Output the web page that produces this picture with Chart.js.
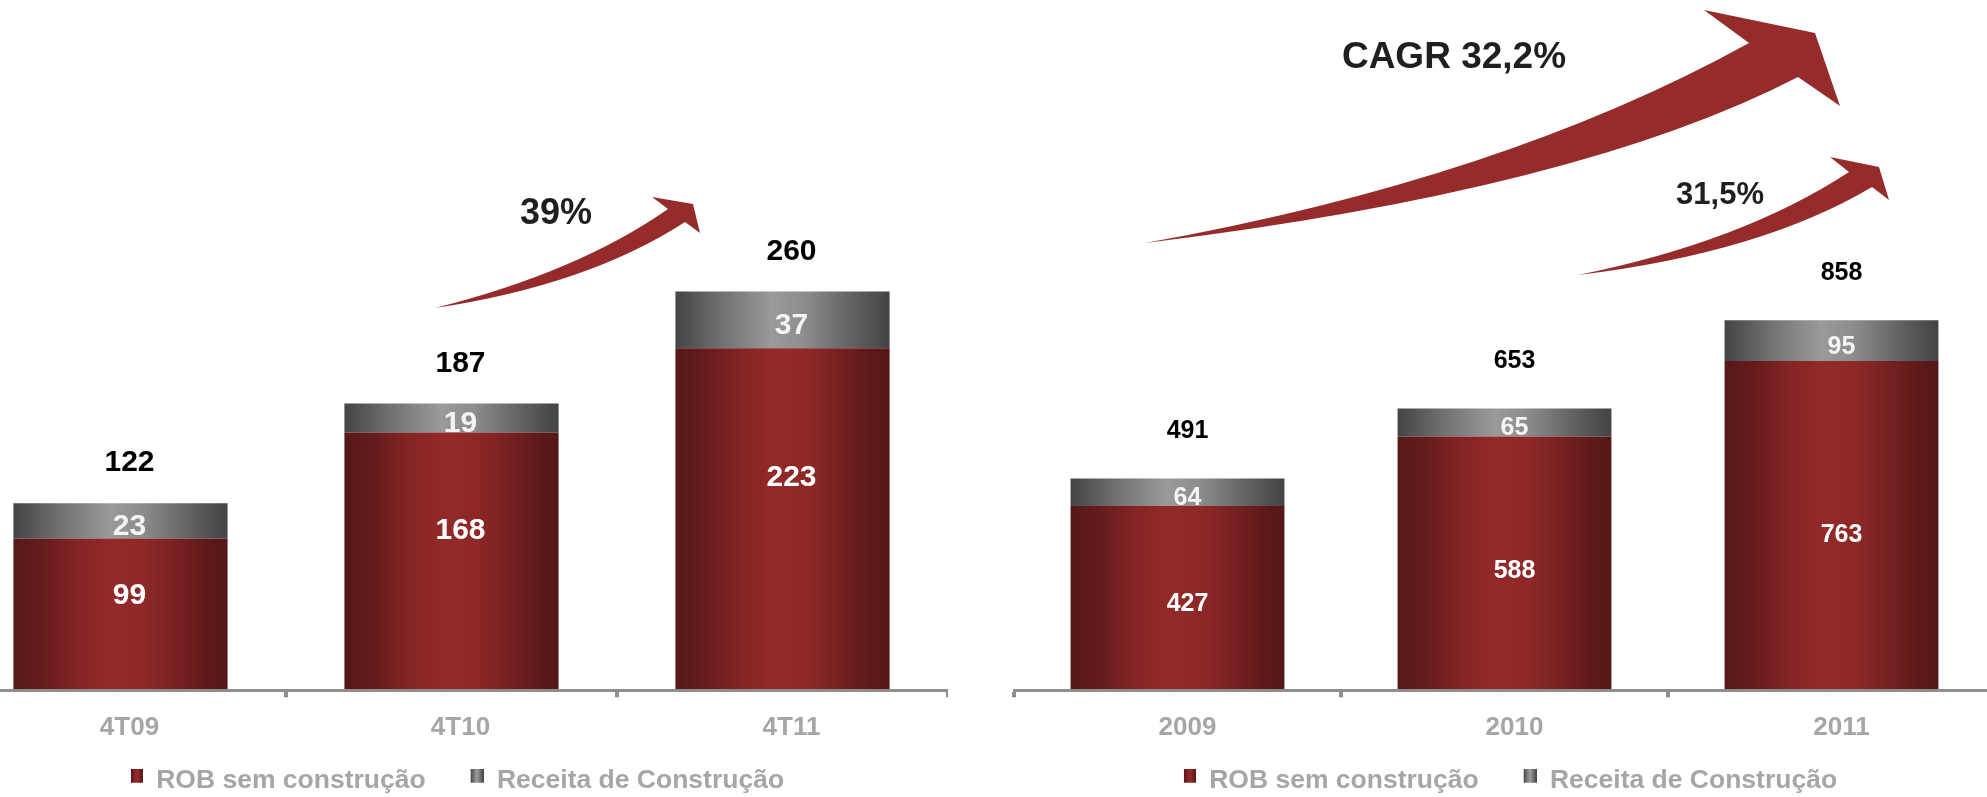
<!DOCTYPE html>
<html lang="pt-BR">
<head>
<meta charset="utf-8">
<title>Receita Operacional Bruta</title>
<script src="https://cdn.jsdelivr.net/npm/chart.js@4.4.1/dist/chart.umd.min.js"></script>
<style>
  html, body { margin: 0; padding: 0; background: #fff; overflow: hidden; }
  body { width: 1987px; height: 797px; position: relative; }
  .painel { position: absolute; top: 0; height: 804px; }
  #painel-tri { left: -70px; width: 1018px; }
  #painel-ano { left: 989px; width: 1006px; }
</style>
</head>
<body>
<div class="painel" id="painel-tri"><canvas id="graficoTri"></canvas></div>
<div class="painel" id="painel-ano"><canvas id="graficoAno"></canvas></div>
<script>
// Trimestre (4T)
const trimestres = ["4T09", "4T10", "4T11"];
const robTri = [99, 168, 223];
const construcaoTri = [23, 19, 37];

// Ano
const anos = ["2009", "2010", "2011"];
const robAno = [427, 588, 763];
const construcaoAno = [64, 65, 95];

const nomesSeries = ["ROB sem construção", "Receita de Construção"];

const FONTE = "'Liberation Sans', Arial, Helvetica, sans-serif";
const CINZA_TEXTO = "#a6a6a6";
const COR_EIXO = "#8e8e8e";
const COR_SETA = "#952b2b";
const CAIXA_LEGENDA = 49; // largura reservada pro marcador (define o espaço entre os itens)

// degradê horizontal das barras (bordas escuras, centro claro)
const tonsVermelho = [[0, "#561818"], [0.14, "#661c1c"], [0.3, "#842424"], [0.46, "#932a29"], [0.62, "#8d2827"], [0.78, "#742020"], [0.92, "#5c1919"], [1, "#541717"]];
const tonsCinza = [[0, "#444444"], [0.22, "#727272"], [0.45, "#9a9a9a"], [0.6, "#8d8d8d"], [0.8, "#666666"], [1, "#434343"]];

Chart.defaults.font.family = FONTE;
Chart.defaults.font.weight = "bold";

function degrade(ctx, x0, x1, tons) {
  const g = ctx.createLinearGradient(x0, 0, x1, 0);
  tons.forEach(function(t) { g.addColorStop(t[0], t[1]); });
  return g;
}

function preenchimento(tons, largura) {
  return function(c) {
    const chart = c.chart;
    const eixo = chart.scales.x;
    if (!chart.chartArea || !eixo || c.dataIndex === undefined) return tons[3][1];
    const cx = eixo.getPixelForValue(c.dataIndex);
    const meia = eixo.width / chart.data.labels.length * largura / 2;
    return degrade(chart.ctx, cx - meia, cx + meia, tons);
  };
}

// marcadores da legenda: quadradinho encostado à direita da caixa
function marcador(tons, w, h) {
  const c = document.createElement("canvas");
  c.width = CAIXA_LEGENDA;
  c.height = 24;
  const g = c.getContext("2d");
  const x0 = CAIXA_LEGENDA - w;
  g.fillStyle = degrade(g, x0, CAIXA_LEGENDA, tons);
  g.fillRect(x0, 0, w, h);
  return c;
}
const marcadores = [marcador(tonsVermelho, 12, 14), marcador(tonsCinza, 13, 14)];

// números dentro e acima das barras
const rotulos = {
  id: "rotulos",
  afterDatasetsDraw(chart, args, opts) {
    const ctx = chart.ctx;
    const rob = chart.data.datasets[0].data;
    const cons = chart.data.datasets[1].data;
    const barrasRob = chart.getDatasetMeta(0).data;
    const barrasCons = chart.getDatasetMeta(1).data;
    ctx.save();
    ctx.textAlign = "center";
    ctx.textBaseline = "middle";
    ctx.font = "bold " + opts.tamanho + "px " + FONTE;
    for (let i = 0; i < barrasRob.length; i++) {
      const b = barrasRob[i];
      const c = barrasCons[i];
      const x = b.x + opts.desvio;
      ctx.fillStyle = "#ffffff";
      ctx.fillText(rob[i], x, b.y + (b.base - b.y) * opts.posRob);
      ctx.fillStyle = "#f4f4f4";
      ctx.fillText(cons[i], x, (c.y + c.base) / 2 + 6);
      ctx.fillStyle = "#000000";
      ctx.fillText(rob[i] + cons[i], x, c.y - opts.folga);
    }
    ctx.restore();
  }
};

// setas de crescimento e textos de variação (coordenadas a partir da borda esquerda da área do gráfico)
const setas = {
  id: "setas",
  afterDraw(chart, args, opts) {
    const ctx = chart.ctx;
    ctx.save();
    ctx.translate(chart.chartArea.left, 0);
    (opts.setas || []).forEach(function(s) {
      ctx.beginPath();
      ctx.moveTo(s.cauda[0], s.cauda[1]);
      ctx.quadraticCurveTo(s.ctrlSup[0], s.ctrlSup[1], s.entalhe1[0], s.entalhe1[1]);
      ctx.lineTo(s.farpa1[0], s.farpa1[1]);
      ctx.lineTo(s.ponta[0], s.ponta[1]);
      ctx.lineTo(s.farpa2[0], s.farpa2[1]);
      ctx.lineTo(s.entalhe2[0], s.entalhe2[1]);
      ctx.quadraticCurveTo(s.ctrlInf[0], s.ctrlInf[1], s.cauda[0], s.cauda[1]);
      ctx.closePath();
      ctx.fillStyle = COR_SETA;
      ctx.fill();
    });
    ctx.textAlign = "center";
    ctx.textBaseline = "middle";
    ctx.fillStyle = "#1f1f1f";
    (opts.textos || []).forEach(function(t) {
      ctx.font = "bold " + t.tamanho + "px " + FONTE;
      ctx.fillText(t.texto, t.x, t.y);
    });
    ctx.restore();
  }
};

function criarGrafico(id, categorias, rob, cons, cfg) {
  return new Chart(document.getElementById(id), {
    type: "bar",
    data: {
      labels: categorias,
      datasets: [
        {
          label: nomesSeries[0],
          data: rob,
          backgroundColor: preenchimento(tonsVermelho, cfg.largura),
          borderWidth: 0,
          barPercentage: cfg.largura,
          categoryPercentage: 1
        },
        {
          label: nomesSeries[1],
          data: cons,
          backgroundColor: preenchimento(tonsCinza, cfg.largura),
          borderWidth: 0,
          barPercentage: cfg.largura,
          categoryPercentage: 1
        }
      ]
    },
    options: {
      responsive: true,
      maintainAspectRatio: false,
      animation: false,
      layout: { padding: 0 },
      scales: {
        x: {
          stacked: true,
          offset: true,
          grid: {
            display: true,
            offset: true,
            drawOnChartArea: false,
            drawTicks: true,
            tickLength: 7,
            color: COR_EIXO,
            lineWidth: 4
          },
          border: { display: true, color: COR_EIXO, width: 3, z: 1 },
          ticks: {
            color: CINZA_TEXTO,
            padding: 15,
            labelOffset: cfg.rotulos.desvio,
            font: { size: 26, weight: "bold" },
            maxRotation: 0
          }
        },
        // eixo y sem desenho, só reserva 25px à esquerda para centralizar a legenda
        y: {
          stacked: true,
          display: true,
          min: 0,
          max: cfg.maximo,
          ticks: { display: false },
          grid: { display: false },
          border: { display: false },
          afterFit: function(scale) { scale.width = 25; }
        }
      },
      plugins: {
        tooltip: { enabled: false },
        legend: {
          position: "bottom",
          labels: {
            color: CINZA_TEXTO,
            font: { size: 26.5, weight: "bold" },
            usePointStyle: true,
            pointStyleWidth: CAIXA_LEGENDA,
            boxHeight: 14,
            padding: 9,
            generateLabels: function(chart) {
              const itens = Chart.defaults.plugins.legend.labels.generateLabels(chart);
              itens.forEach(function(it, i) { it.pointStyle = marcadores[i]; });
              return itens;
            }
          }
        },
        rotulos: cfg.rotulos,
        setas: cfg.setas
      }
    },
    plugins: [rotulos, setas]
  });
}

document.addEventListener("DOMContentLoaded", function() {
  criarGrafico("graficoTri", trimestres, robTri, construcaoTri, {
    largura: 0.647,
    maximo: 450,
    rotulos: { tamanho: 30, desvio: 9, posRob: 0.38, folga: 40 },
    setas: {
      setas: [{
        cauda: [480, 308], ctrlSup: [623, 272], entalhe1: [713, 209],
        farpa1: [697, 197], ponta: [738, 204], farpa2: [745, 233],
        entalhe2: [730, 222], ctrlInf: [633, 285]
      }],
      textos: [{ texto: "39%", x: 601, y: 214, tamanho: 36 }]
    }
  });

  criarGrafico("graficoAno", anos, robAno, construcaoAno, {
    largura: 0.654,
    maximo: 1600,
    rotulos: { tamanho: 25, desvio: 10, posRob: 0.53, folga: 47 },
    setas: {
      setas: [
        {
          cauda: [131, 243], ctrlSup: [489, 179], entalhe1: [735, 43],
          farpa1: [690, 10], ponta: [801, 33], farpa2: [826, 106],
          entalhe2: [784, 77], ctrlInf: [566, 190]
        },
        {
          cauda: [564, 275], ctrlSup: [728, 242], entalhe1: [835, 172],
          farpa1: [816, 157], ponta: [865, 167], farpa2: [875, 200],
          entalhe2: [858, 187], ctrlInf: [747, 253]
        }
      ],
      textos: [
        { texto: "CAGR 32,2%", x: 440, y: 58, tamanho: 37 },
        { texto: "31,5%", x: 706, y: 195, tamanho: 31 }
      ]
    }
  });
});
</script>
</body>
</html>
